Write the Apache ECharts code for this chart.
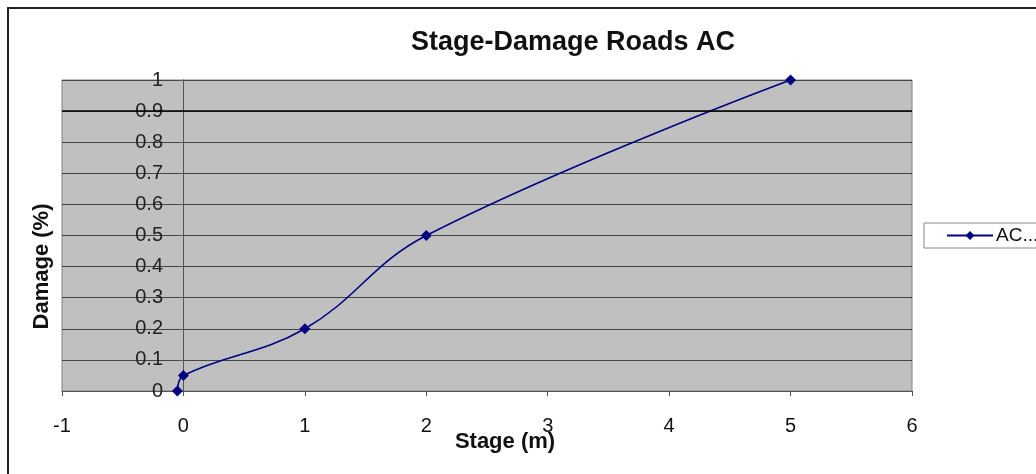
<!DOCTYPE html>
<html>
<head>
<meta charset="utf-8">
<script src="https://cdn.jsdelivr.net/npm/echarts@6/dist/echarts.min.js"></script>
<style>
html,body{margin:0;padding:0;background:#fff;}
#chart{width:1036px;height:474px;}
</style>
</head>
<body>
<div id="chart"></div>
<script>
const stageValues = [-0.05, 0, 1, 2, 5];
const damageValues = [0, 0.05, 0.2, 0.5, 1];
const seriesName = 'AC...';
const titleText = 'Stage-Damage Roads AC';
const xAxisName = 'Stage (m)';
const yAxisName = 'Damage (%)';
const highlightLevel = 0.9;

const points = stageValues.map((s, i) => [s, damageValues[i]]);
const font = 'Liberation Sans, Arial, sans-serif';

const chart = echarts.init(document.getElementById('chart'));
chart.setOption({
  backgroundColor: '#ffffff',
  animation: false,
  graphic: [{
    type: 'rect', z: -10, silent: true,
    shape: { x: 8, y: 8, width: 1200, height: 700 },
    style: { fill: 'none', stroke: '#222', lineWidth: 2 }
  }],
  title: {
    text: titleText, left: 406, top: 24,
    textStyle: { fontFamily: font, fontSize: 27, fontWeight: 'bold', color: '#111' }
  },
  legend: {
    left: 924, top: 223,
    backgroundColor: '#fff', borderColor: '#888', borderWidth: 1,
    padding: [3, 40, 3, 22],
    itemWidth: 46, itemHeight: 11, itemGap: 4,
    textStyle: { fontFamily: font, fontSize: 19, color: '#111', padding: [0, 0, 0, -2] },
    data: [seriesName]
  },
  grid: {
    left: 62, right: 124, top: 80, bottom: 83,
    containLabel: false, outerBoundsMode: 'none',
    show: true, backgroundColor: '#c0c0c0', borderColor: '#808080', borderWidth: 1
  },
  xAxis: {
    type: 'value', min: -1, max: 6, interval: 1,
    name: xAxisName, nameLocation: 'middle', nameGap: 40, nameMoveOverlap: false,
    nameTextStyle: { fontFamily: font, fontSize: 22, fontWeight: 'bold', color: '#111', padding: [0, 0, 0, 36] },
    axisLine: { show: true, onZero: false, lineStyle: { color: '#555', width: 1 } },
    axisTick: { show: true, inside: false, length: 5, lineStyle: { color: '#555' } },
    axisLabel: { fontFamily: font, fontSize: 20, color: '#111', margin: 25 },
    splitLine: { show: false }
  },
  yAxis: {
    type: 'value', min: 0, max: 1, interval: 0.1,
    name: yAxisName, nameLocation: 'middle', nameGap: 9, nameRotate: 90, nameMoveOverlap: false,
    nameTextStyle: { fontFamily: font, fontSize: 22, fontWeight: 'bold', color: '#111', padding: [0, 62, 0, 0] },
    axisLine: { show: true, onZero: true, lineStyle: { color: '#555', width: 1 } },
    axisTick: { show: true, length: 5, lineStyle: { color: '#555' } },
    axisLabel: { fontFamily: font, fontSize: 20, color: '#222', margin: -101,
      formatter: v => String(Math.round(v * 10) / 10) },
    splitLine: { show: true, lineStyle: { color: '#444', width: 1 } }
  },
  series: [{
    name: seriesName,
    type: 'line',
    data: points,
    smooth: 0.4,
    symbol: 'diamond',
    symbolSize: 11,
    lineStyle: { color: '#000080', width: 1.6 },
    itemStyle: { color: '#000080' },
    markLine: {
      silent: true, symbol: 'none', label: { show: false },
      lineStyle: { color: '#000', width: 1.5, type: 'solid' },
      data: [{ yAxis: highlightLevel }]
    }
  }]
});
</script>
</body>
</html>
